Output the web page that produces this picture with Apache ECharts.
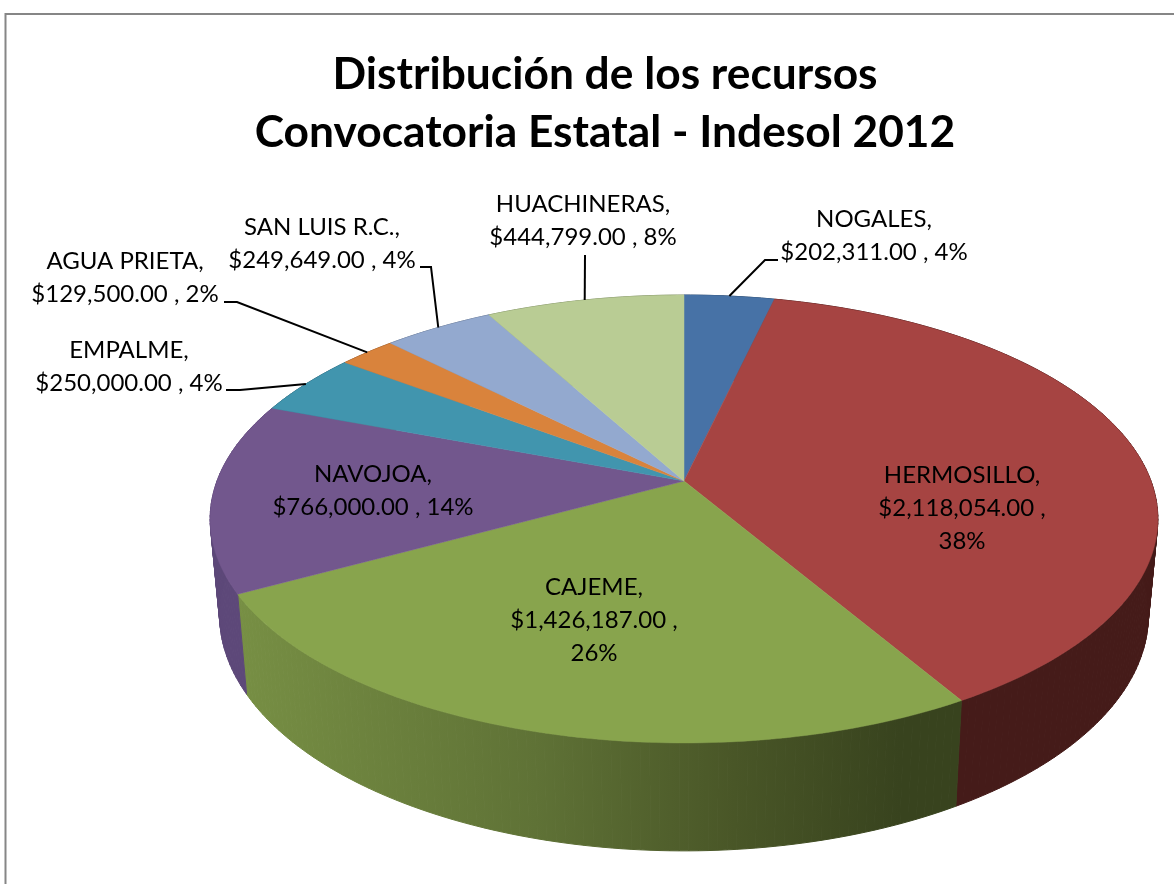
<!DOCTYPE html>
<html>
<head>
<meta charset="utf-8">
<style>html,body{margin:0;padding:0;background:#fff}#c{width:1174px;height:884px}</style>
<script src="https://cdn.jsdelivr.net/npm/echarts@6/dist/echarts.min.js"></script>
</head>
<body>
<div id="c"></div>
<script>
// Data
const categories = ['NOGALES','HERMOSILLO','CAJEME','NAVOJOA','EMPALME','AGUA PRIETA','SAN LUIS R.C.','HUACHINERAS'];
const values = [202311,2118054,1426187,766000,250000,129500,249649,444799];
const titleText = 'Distribución de los recursos\nConvocatoria Estatal - Indesol 2012';
// Styles
const topColors = ['#4772A6','#A64442','#88A44D','#72578D','#4195AE','#D9833C','#93A9CF','#B9CC94'];
const cajemeSide = {type:'linear',x:238,y:0,x2:900,y2:0,global:true,colorStops:[{offset:0,color:'#778F44'},{offset:0.45,color:'#5F7236'},{offset:0.75,color:'#495627'},{offset:1,color:'#38431E'}]};
const sideColors = ['#2A4464','#451B19',cajemeSide,'#5D4879','#2A6172','#8E5527','#5F6E87','#78855F'];
// Layout
const labelAnchors = [[874,236],[962,508],[594,620],[373,491],[129,367],[125,278],[322,244],[583,221]];
const labelBreakPct = [false,true,true,false,false,false,false,false];
const leaderStarts = [[[778,260],[765,260]],null,null,null,[[226,390],[240,390]],[[224,302],[237,302]],[[420,267],[431,267]],[[585,255]]];
const CX=684, CY=481, RX=467, RY=217.5, PERSP=0.1696, DEPTH=94, SHRINK=0.98;

const total = values.reduce((a,b)=>a+b,0);
function angles(i){
  let s=0; for(let k=0;k<i;k++) s+=values[k];
  return [s/total*2*Math.PI,(s+values[i])/total*2*Math.PI];
}
function proj(t,bottom){
  const w=1+PERSP*Math.cos(t);
  const ox=RX*Math.sin(t)/w, oy=-RY*Math.cos(t)/w;
  return bottom ? [CX+ox*SHRINK, CY+oy*SHRINK+DEPTH/w] : [CX+ox, CY+oy];
}
function arc(a,b,bottom){
  const n=Math.max(2,Math.ceil((b-a)/(Math.PI/180)));
  const pts=[];
  for(let j=0;j<=n;j++) pts.push(proj(a+(b-a)*j/n,bottom));
  return pts;
}
function moneyText(v){
  return '$'+v.toLocaleString('en-US',{minimumFractionDigits:2,maximumFractionDigits:2});
}
function labelText(i){
  const pct=Math.round(values[i]/total*100)+'%';
  return categories[i]+',\n'+moneyText(values[i])+' ,'+(labelBreakPct[i]?'\n':' ')+pct;
}
const dataItems = values.map((v,i)=>({name:categories[i],value:v}));

const chart = echarts.init(document.getElementById('c'),null,{renderer:'canvas'});
chart.setOption({
  animation:false,
  backgroundColor:'#fff',
  title:{
    text:titleText,left:600,top:41,textAlign:'center',
    textStyle:{fontFamily:'Lato',fontWeight:'bold',fontSize:44.3,lineHeight:58,color:'#000'}
  },
  graphic:[{type:'polyline',z:0,shape:{points:[[5.5,884],[5.5,14],[1174,14]]},style:{stroke:'#868686',lineWidth:2,fill:null}}],
  series:[
    {type:'custom',name:'side',coordinateSystem:'none',z:2,silent:true,data:dataItems,
     renderItem(p,api){
       const i=p.dataIndex,[a,b]=angles(i);
       const up=arc(a,b,false),down=arc(a,b,true),quads=[];
       for(let j=0;j<up.length-1;j++){
         quads.push({type:'polygon',shape:{points:[up[j],up[j+1],down[j+1],down[j]]},
           style:{fill:sideColors[i],stroke:sideColors[i],lineWidth:1}});
       }
       return {type:'group',children:quads};
     }},
    {type:'custom',name:'top',coordinateSystem:'none',z:3,silent:true,data:dataItems,
     renderItem(p,api){
       const i=p.dataIndex,[a,b]=angles(i);
       return {type:'polygon',shape:{points:[[CX,CY]].concat(arc(a,b,false))},style:{fill:topColors[i],stroke:topColors[i],lineWidth:0.5}};
     }},
    {type:'custom',name:'labels',coordinateSystem:'none',z:4,silent:true,data:dataItems,
     renderItem(p,api){
       const i=p.dataIndex,[a,b]=angles(i);
       const kids=[{type:'text',x:labelAnchors[i][0],y:labelAnchors[i][1],
         style:{text:labelText(i),fill:'#000',align:'center',verticalAlign:'middle',fontFamily:'Lato',fontSize:24,lineHeight:33}}];
       if(leaderStarts[i]){
         kids.push({type:'polyline',shape:{points:leaderStarts[i].concat([proj((a+b)/2,false)])},style:{stroke:'#000',lineWidth:2,fill:null}});
       }
       return {type:'group',children:kids};
     }}
  ]
});
</script>
</body>
</html>
